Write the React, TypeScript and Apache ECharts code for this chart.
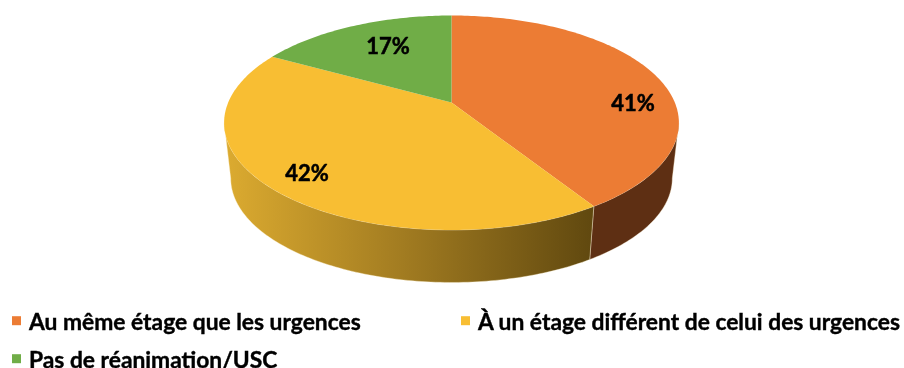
import React, { useEffect, useRef } from "react";
import * as echarts from "echarts";

const categories = [
  "Au même étage que les urgences",
  "À un étage différent de celui des urgences",
  "Pas de réanimation/USC",
];
const values = [41, 42, 17];
const sliceColors = ["#EC7C34", "#F8BE33", "#70AD47"];
const FONT = "Lato, 'Open Sans', sans-serif";

// Geometry of the tilted disc (perspective projection of a circle)
const CX = 451.5;
const APEX_Y = 102.5;
const A = 223.3;
const B = 103.4;
const K = -0.1888;
const ELLIPSE_CY = 123;
const BOTTOM_CY = 178.6;
const BOTTOM_SCALE = 0.971;
const SIDE_RIGHT = (Math.acos(K) * 180) / Math.PI;
const SIDE_LEFT = 360 - SIDE_RIGHT;

const labelAnchors = [
  [633, 102],
  [307, 172],
  [388, 45],
];
const legendSlots = [
  [12, 309],
  [461, 309],
  [12, 347],
];

const topPoint = (deg: number, r = 1) => {
  const t = (deg * Math.PI) / 180;
  const u = r * Math.sin(t);
  const v = -r * Math.cos(t);
  const w = 1 + K * v;
  return [CX + (A * u) / w, APEX_Y + (B * v) / w];
};
const bottomPoint = (deg: number) => {
  const p = topPoint(deg);
  return [CX + (p[0] - CX) * BOTTOM_SCALE, BOTTOM_CY + (p[1] - ELLIPSE_CY) * BOTTOM_SCALE];
};
const sweep = (fn: (d: number) => number[], a: number, b: number) => {
  const n = Math.max(2, Math.ceil(Math.abs(b - a)));
  const out: number[][] = [];
  for (let i = 0; i <= n; i++) out.push(fn(a + ((b - a) * i) / n));
  return out;
};
const toPath = (pts: number[][], close = true) =>
  pts.map((p, i) => `${i ? "L" : "M"}${p[0].toFixed(2)} ${p[1].toFixed(2)}`).join(" ") + (close ? " Z" : "");

const total = values.reduce((s, v) => s + v, 0);

const wallFills: any[] = [
  "#5E2F13",
  new echarts.graphic.LinearGradient(0, 0, 1, 0, [
    { offset: 0, color: "#DCAB30" },
    { offset: 0.45, color: "#A67F22" },
    { offset: 1, color: "#60480F" },
  ]),
  "#3E5F27",
];

const makeSeries = (index: number) => ({
  type: "custom",
  name: categories[index],
  coordinateSystem: "none",
  silent: true,
  itemStyle: { color: sliceColors[index] },
  data: [[values[index]]],
  z: 2,
  renderItem: (_p: any, api: any) => {
    const value = api.value(0);
    const before = values.slice(0, index).reduce((s, v) => s + v, 0);
    const start = (before / total) * 360;
    const end = start + (value / total) * 360;
    const children: any[] = [];
    const wa = Math.max(start, SIDE_RIGHT);
    const wb = Math.min(end, SIDE_LEFT);
    if (wb > wa) {
      const wall = [...sweep(topPoint, wa, wb), ...sweep(bottomPoint, wb, wa)];
      children.push({
        type: "path",
        shape: { pathData: toPath(wall) },
        style: { fill: wallFills[index], stroke: "rgba(255,245,215,0.55)", lineWidth: 0.7 },
      });
    }
    const top = [topPoint(0, 0), ...sweep(topPoint, start, end)];
    children.push({
      type: "path",
      shape: { pathData: toPath(top) },
      style: { fill: sliceColors[index] },
    });
    children.push({
      type: "text",
      x: labelAnchors[index][0],
      y: labelAnchors[index][1],
      style: {
        text: `${value}%`,
        fill: "#000000",
        font: `bold 22px ${FONT}`,
        align: "center",
        verticalAlign: "middle",
        stroke: "#000000",
        lineWidth: 0.5,
      },
    });
    return { type: "group", children };
  },
});

const makeLegend = (index: number) => ({
  orient: "horizontal" as const,
  selectedMode: false,
  itemWidth: 9,
  itemHeight: 9,
  icon: "rect",
  padding: 0,
  left: legendSlots[index][0],
  top: legendSlots[index][1],
  data: [{ name: categories[index], itemStyle: { color: sliceColors[index] } }],
  textStyle: {
    color: "#000000",
    fontFamily: FONT,
    fontWeight: "bold" as const,
    fontSize: 22.8,
    lineHeight: 16,
    padding: [0, 0, 0, 3],
    textBorderColor: "#000000",
    textBorderWidth: 0.4,
  },
});

export default function App() {
  const ref = useRef<HTMLDivElement>(null);
  useEffect(() => {
    const chart = echarts.init(ref.current!, undefined, { renderer: "svg" });
    chart.setOption({
      animation: false,
      backgroundColor: "#FFFFFF",
      legend: categories.map((_, i) => makeLegend(i)),
      series: categories.map((_, i) => makeSeries(i)),
    });
    return () => chart.dispose();
  }, []);
  return (
    <div
      ref={ref}
      style={{ position: "fixed", left: 0, top: 0, width: 904, height: 368, filter: "blur(0.5px)" }}
    />
  );
}
